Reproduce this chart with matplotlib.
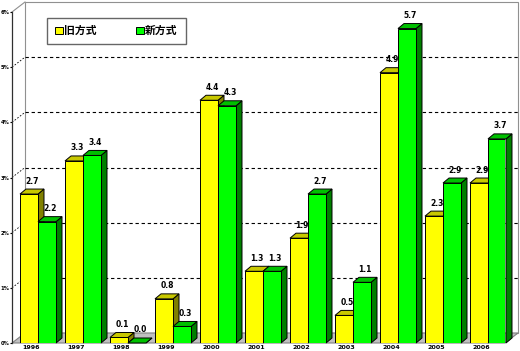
import matplotlib.pyplot as plt
import numpy as np
from matplotlib.patches import Polygon, Patch

years = ['1996', '1997', '1998', '1999', '2000', '2001', '2002', '2003', '2004', '2005', '2006']
old_vals = [2.7, 3.3, 0.1, 0.8, 4.4, 1.3, 1.9, 0.5, 4.9, 2.3, 2.9]
new_vals = [2.2, 3.4, 0.0, 0.3, 4.3, 1.3, 2.7, 1.1, 5.7, 2.9, 3.7]
y_ticks = [0, 1, 2, 3, 4, 5, 6]
series_names = ['旧方式', '新方式']

W, H = 520, 351
fig = plt.figure(figsize=(W / 100, H / 100), dpi=100)
# front plane of the pseudo-3D box, in pixels
left_px, right_px, bot_px, top_px = 12, 505, 343, 12
ax = fig.add_axes([left_px / W, (H - bot_px) / H, (right_px - left_px) / W, (bot_px - top_px) / H])

px_x = 45.0                       # pixels per category
px_y = (bot_px - top_px) / 6.0    # pixels per percent
x0 = (left_px - 38) / px_x
x1 = (right_px - 38) / px_x
ax.set_xlim(x0, x1)
ax.set_ylim(0, 6)

wdx, wdy = 13 / px_x, 10 / px_y   # wall depth
bdx, bdy = 6 / px_x, 5 / px_y     # bar depth
bw = 18 / px_x

# floor, side wall, back wall
ax.add_patch(Polygon([(x0, 0), (x1, 0), (x1 + wdx, wdy), (x0 + wdx, wdy)],
                     closed=True, fc='#c0c0c0', ec='#808080', lw=0.8, clip_on=False, zorder=1))
ax.add_patch(Polygon([(x0 + wdx, wdy), (x1 + wdx, wdy), (x1 + wdx, 6 + wdy), (x0 + wdx, 6 + wdy)],
                     closed=True, fc='white', ec='#909090', lw=0.8, clip_on=False, zorder=0.5))
ax.plot([x0, x0 + wdx], [6, 6 + wdy], color='#909090', lw=0.8, clip_on=False, zorder=1)
for v in y_ticks[1:-1]:
    ax.plot([x0 + wdx, x1 + wdx], [v + wdy, v + wdy], color='black', lw=0.8,
            ls=(0, (3, 2.5)), clip_on=False, zorder=1)
    ax.plot([x0, x0 + wdx], [v, v + wdy], color='black', lw=0.6,
            ls=(0, (2, 2)), clip_on=False, zorder=1)

colors = [('#ffff00', '#c8c800', '#808000'), ('#00ff00', '#00c000', '#008000')]
z = 2
for i in range(len(years)):
    for k, val in enumerate([old_vals[i], new_vals[i]]):
        front, top, side = colors[k]
        xl = i - bw + k * bw
        xr = xl + bw
        ax.add_patch(Polygon([(xr, 0), (xr + bdx, bdy), (xr + bdx, val + bdy), (xr, val)],
                             closed=True, fc=side, ec='black', lw=0.7, zorder=z, clip_on=False))
        ax.add_patch(Polygon([(xl, val), (xr, val), (xr + bdx, val + bdy), (xl + bdx, val + bdy)],
                             closed=True, fc=top, ec='black', lw=0.7, zorder=z, clip_on=False))
        ax.bar(xl, val, width=bw, align='edge', color=front, edgecolor='black', lw=0.7, zorder=z + 0.5)
        ax.text(xl + bw / 2 + 3 / px_x, val + bdy + 3.5 / px_y, f'{val:.1f}', ha='center', va='bottom',
                fontsize=5.5, fontweight='bold', zorder=20)
        z += 1

for s in ['top', 'right', 'bottom']:
    ax.spines[s].set_visible(False)
ax.spines['left'].set_color('#303030')
ax.spines['left'].set_linewidth(0.9)
ax.set_yticks(y_ticks)
ax.set_yticklabels([f'{v}%' for v in y_ticks], fontsize=3.8, fontweight='bold')
ax.tick_params(axis='y', length=1.6, width=0.8, pad=0.2)
ax.set_xticks(np.arange(len(years)) - 0.15)
ax.set_xticklabels(years, fontsize=4.6, fontweight='bold')
ax.tick_params(axis='x', length=0, pad=1.2)
ax.patch.set_visible(False)

handles = [Patch(fc=colors[0][0], ec='black', lw=0.7), Patch(fc=colors[1][0], ec='black', lw=0.7)]
leg = fig.legend(handles, series_names, loc='upper left', bbox_to_anchor=(47 / W, 1 - 18 / H),
                 ncol=2, frameon=True, fancybox=False, edgecolor='#404040',
                 prop={'family': ['Noto Sans CJK JP', 'DejaVu Sans'], 'weight': 'bold', 'size': 7.8},
                 handlelength=0.7, handleheight=0.7, handletextpad=0.15, columnspacing=3.6,
                 borderpad=0.75, borderaxespad=0)
leg.get_frame().set_linewidth(1.0)

fig.savefig('out.png', dpi=100)
